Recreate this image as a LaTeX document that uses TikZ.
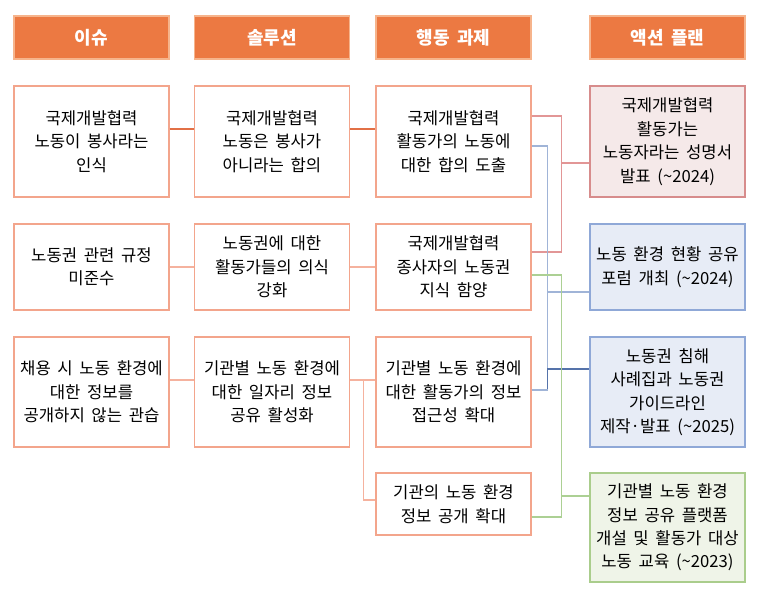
\documentclass[tikz,border=0pt]{standalone}
\usepackage{fontspec}
\setmainfont{Noto Sans CJK KR}
\newcommand\mywidesp{\spaceskip=0.4em\relax}
\definecolor{hdrfill}{RGB}{236,121,66}
\definecolor{hdrline}{RGB}{246,180,140}
\definecolor{boxline}{RGB}{243,165,140}
\definecolor{conA}{RGB}{226,112,70}
\definecolor{conB}{RGB}{245,178,158}
\definecolor{redfill}{RGB}{245,233,233}
\definecolor{redline}{RGB}{215,140,140}
\definecolor{bluefill}{RGB}{231,236,246}
\definecolor{blueline}{RGB}{143,168,215}
\definecolor{greenfill}{RGB}{239,244,232}
\definecolor{greenline}{RGB}{170,205,140}
\definecolor{conRed}{RGB}{226,150,150}
\definecolor{conBlue}{RGB}{160,180,215}
\definecolor{conBlueD}{RGB}{85,115,170}
\definecolor{conGreen}{RGB}{172,208,148}
\tikzset{
  txt/.style={font={\fontsize{12.5}{17.6}\selectfont\mywidesp}, align=center, inner sep=0pt},
  hdr/.style={txt, fill=hdrfill, draw=hdrline, line width=0.8pt, text=white, font={\fontsize{13.5}{17.6}\selectfont\bfseries\mywidesp}, minimum width=116.25pt, minimum height=32.25pt},
  box/.style={txt, draw=boxline, line width=0.8pt, fill=white, minimum width=116.25pt},
  rbox/.style={txt, draw=redline, fill=redfill, line width=0.8pt, minimum width=116.25pt},
  bbox/.style={txt, draw=blueline, fill=bluefill, line width=0.8pt, minimum width=116.25pt},
  gbox/.style={txt, draw=greenline, fill=greenfill, line width=0.8pt, minimum width=116.25pt},
  cA/.style={draw=conA, line width=0.8pt},
  cB/.style={draw=conB, line width=0.8pt},
  cR/.style={draw=conRed, line width=0.8pt},
  cBl/.style={draw=conBlue, line width=0.8pt},
  cBd/.style={draw=conBlueD, line width=0.8pt},
  cG/.style={draw=conGreen, line width=0.8pt},
}
\begin{document}
\begin{tikzpicture}[x=0.75pt,y=-0.75pt]
\useasboundingbox (0,0) rectangle (757,601);
% headers
\node[hdr] (h1) at (91.5,37.5) {이슈};
\node[hdr] (h2) at (272,37.5) {솔루션};
\node[hdr] (h3) at (453.5,37.5) {행동 과제};
\node[hdr] (h4) at (667.5,37.5) {액션 플랜};
% column 1
\node[box, minimum height=83.25pt] (a1) at (91.5,141.5) {국제개발협력\\노동이 봉사라는\\인식};
\node[box, minimum height=64.5pt] (a2) at (91.5,267) {노동권 관련 규정\\미준수};
\node[box, minimum height=82.5pt] (a3) at (91.5,392) {채용 시 노동 환경에\\대한 정보를\\공개하지 않는 관습};
% column 2
\node[box, minimum height=83.25pt] (b1) at (272,141.5) {국제개발협력\\노동은 봉사가\\아니라는 합의};
\node[box, minimum height=64.5pt] (b2) at (272,267) {노동권에 대한\\활동가들의 의식\\강화};
\node[box, minimum height=82.5pt] (b3) at (272,392) {기관별 노동 환경에\\대한 일자리 정보\\공유 활성화};
% column 3
\node[box, minimum height=83.25pt] (c1) at (453.5,141.5) {국제개발협력\\활동가의 노동에\\대한 합의 도출};
\node[box, minimum height=64.5pt] (c2) at (453.5,267) {국제개발협력\\종사자의 노동권\\지식 함양};
\node[box, minimum height=82.5pt] (c3) at (453.5,392) {기관별 노동 환경에\\대한 활동가의 정보\\접근성 확대};
\node[box, minimum height=46.5pt] (c4) at (453.5,504) {기관의 노동 환경\\정보 공개 확대};
% column 4
\node[rbox, minimum height=83.25pt] (d1) at (667.5,141.5) {국제개발협력\\활동가는\\노동자라는 성명서\\발표 (\textasciitilde 2024)};
\node[bbox, minimum height=64.5pt] (d2) at (667.5,267) {노동 환경 현황 공유\\포럼 개최 (\textasciitilde 2024)};
\node[bbox, minimum height=82.5pt] (d3) at (667.5,392) {노동권 침해\\사례집과 노동권\\가이드라인\\제작·발표 (\textasciitilde 2025)};
\node[gbox, minimum height=81.75pt] (d4) at (667.5,527.5) {기관별 노동 환경\\정보 공유 플랫폼\\개설 및 활동가 대상\\노동 교육 (\textasciitilde 2023)};
% left connectors
\draw[cA] ([yshift=9.375pt]a1.east) -- ([yshift=9.375pt]b1.west);
\draw[cA] ([yshift=9.375pt]b1.east) -- ([yshift=9.375pt]c1.west);
\draw[cB] (a2.east) -- (b2.west);
\draw[cB] (b2.east) -- (c2.west);
\draw[cB] ([yshift=9pt]a3.east) -- ([yshift=9pt]b3.west);
\draw[cB] ([yshift=9pt]b3.east) -- ([yshift=9pt]c3.west);
\draw[cB] ([yshift=9pt]b3.east) -- ++(13,0) |- ([yshift=3pt]c4.west);
% right connectors
\draw[cR] ([yshift=19.125pt]c1.east) -- ++(30,0) |- ([yshift=-16.125pt]d1.west);
\draw[cR] ([yshift=11.25pt]c2.east) -- ++(30,0) |- ([yshift=-16.125pt]d1.west);
\draw[cBl] ([yshift=-3.375pt]c1.east) -- ++(16,0) |- ([yshift=-18.75pt]d2.west);
\draw[cBl] ([yshift=1.5pt]c3.east) -- ++(16,0) |- ([yshift=-18.75pt]d2.west);
\draw[cBd] ([yshift=1.5pt]c3.east) ++(16,0) |- ([yshift=17.25pt]d3.west);
\draw[cBl] ([yshift=1.5pt]c3.east) -- ++(16,0);
\draw[cG] ([yshift=-6pt]c2.east) -- ++(30,0) |- ([yshift=23.625pt]d4.west);
\draw[cG] ([yshift=-9.75pt]c4.east) -- ++(30,0) |- ([yshift=23.625pt]d4.west);
\end{tikzpicture}
\end{document}
